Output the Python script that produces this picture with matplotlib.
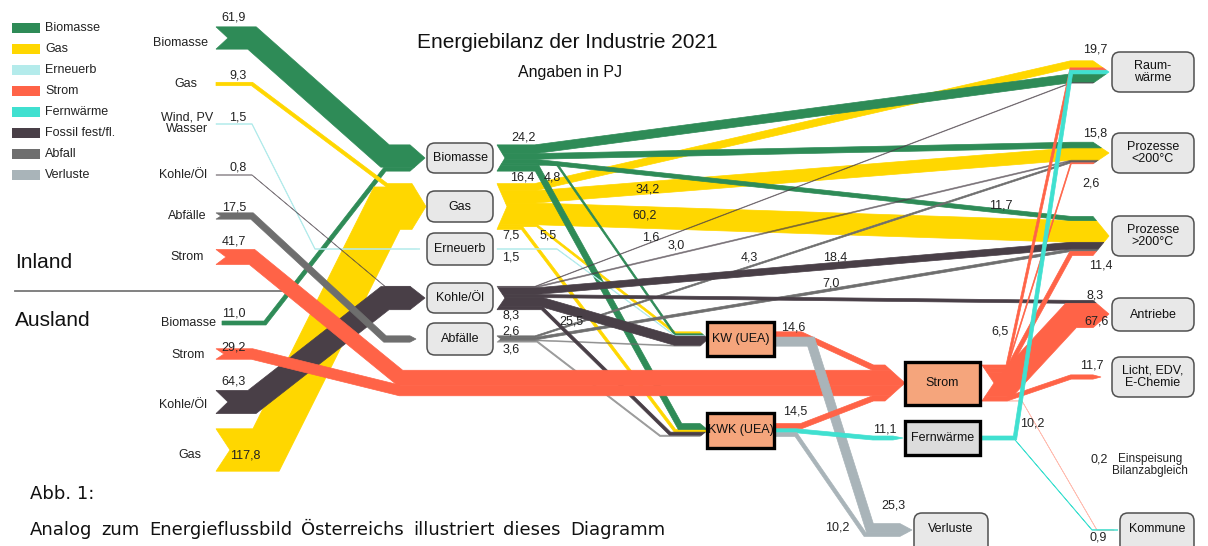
import matplotlib
matplotlib.use("Agg")
import math
import matplotlib.pyplot as plt
from matplotlib.patches import Polygon, FancyBboxPatch, Rectangle

# ---------------- DATA (PJ) ----------------
carriers = ["Biomasse", "Gas", "Erneuerb", "Strom", "Fernwärme",
            "Fossil fest/fl.", "Abfall", "Verluste"]

flow_src = ["BioIn", "BioAus", "GasIn", "GasAus", "WindIn", "KohleIn", "KohleAus",
            "AbfIn", "StromIn", "StromAus",
            "Biomasse", "Biomasse", "Biomasse", "Biomasse", "Biomasse",
            "Gas", "Gas", "Gas", "Gas", "Gas",
            "Erneuerb",
            "Kohle/Öl", "Kohle/Öl", "Kohle/Öl", "Kohle/Öl", "Kohle/Öl", "Kohle/Öl",
            "Abfälle", "Abfälle", "Abfälle", "Abfälle",
            "KW", "KW",
            "KWK", "KWK", "KWK",
            "Strom", "Strom", "Strom", "Strom", "Strom", "Strom",
            "Fernwärme", "Fernwärme"]
flow_dst = ["Biomasse", "Biomasse", "Gas", "Gas", "Erneuerb", "Kohle/Öl", "Kohle/Öl",
            "Abfälle", "Strom", "Strom",
            "Raumwärme", "P<200", "P>200", "KW", "KWK",
            "Raumwärme", "P<200", "P>200", "KW", "KWK",
            "KW",
            "Raumwärme", "P<200", "P>200", "Antriebe", "KW", "KWK",
            "P<200", "P>200", "KW", "KWK",
            "Strom", "Verluste",
            "Strom", "Fernwärme", "Verluste",
            "Raumwärme", "P<200", "P>200", "Antriebe", "Licht", "Kommune",
            "Raumwärme", "Kommune"]
flow_val = [61.9, 11.0, 9.3, 117.8, 1.5, 0.8, 64.3, 17.5, 41.7, 29.2,
            24.2, 15.8, 11.7, 4.8, 16.4,
            19.7, 34.2, 60.2, 5.5, 7.5,
            1.5,
            1.6, 3.0, 18.4, 8.3, 25.5, 8.3,
            4.3, 7.0, 2.6, 3.6,
            14.6, 25.3,
            14.5, 11.1, 10.2,
            6.5, 2.6, 11.4, 67.6, 11.7, 0.2,
            10.2, 0.9]
flow_carrier = ["Biomasse", "Biomasse", "Gas", "Gas", "Erneuerb", "Fossil fest/fl.",
                "Fossil fest/fl.", "Abfall", "Strom", "Strom",
                "Biomasse", "Biomasse", "Biomasse", "Biomasse", "Biomasse",
                "Gas", "Gas", "Gas", "Gas", "Gas",
                "Erneuerb",
                "Fossil fest/fl.", "Fossil fest/fl.", "Fossil fest/fl.", "Fossil fest/fl.",
                "Fossil fest/fl.", "Fossil fest/fl.",
                "Abfall", "Abfall", "Abfall", "Abfall",
                "Strom", "Verluste",
                "Strom", "Fernwärme", "Verluste",
                "Strom", "Strom", "Strom", "Strom", "Strom", "Strom",
                "Fernwärme", "Fernwärme"]

source_ids = ["BioIn", "GasIn", "WindIn", "KohleIn", "AbfIn", "StromIn",
              "BioAus", "StromAus", "KohleAus", "GasAus"]
source_names = ["Biomasse", "Gas", "Wind, PV\nWasser", "Kohle/Öl", "Abfälle", "Strom",
                "Biomasse", "Strom", "Kohle/Öl", "Gas"]

node_ids = ["Biomasse", "Gas", "Erneuerb", "Kohle/Öl", "Abfälle", "KW", "KWK", "Strom",
            "Fernwärme", "Verluste", "Raumwärme", "P<200", "P>200", "Antriebe",
            "Licht", "Kommune"]
node_names = ["Biomasse", "Gas", "Erneuerb", "Kohle/Öl", "Abfälle", "KW (UEA)", "KWK (UEA)",
              "Strom", "Fernwärme", "Verluste", "Raum-\nwärme", "Prozesse\n<200°C",
              "Prozesse\n>200°C", "Antriebe", "Licht, EDV,\nE-Chemie", "Kommune"]

title = "Energiebilanz der Industrie 2021"
subtitle = "Angaben in PJ"

# ---------------- STYLE / LAYOUT ----------------
colors = {"Biomasse": "#2E8B57", "Gas": "#FFD700", "Erneuerb": "#B4EBEB",
          "Strom": "#FF6347", "Fernwärme": "#40E0D0", "Fossil fest/fl.": "#493F47",
          "Abfall": "#6E6E6E", "Verluste": "#A9B4B9"}
S = 0.36  # px per PJ

lay = {
    "BioIn": dict(cy=38, out_x=216, notch=12),
    "GasIn": dict(cy=84, out_x=216, notch=0),
    "WindIn": dict(cy=124, out_x=216, notch=0),
    "KohleIn": dict(cy=175, out_x=216, notch=0),
    "AbfIn": dict(cy=216, out_x=216, notch=5),
    "StromIn": dict(cy=257, out_x=216, notch=10),
    "BioAus": dict(cy=323, out_x=222, notch=0),
    "StromAus": dict(cy=354, out_x=216, notch=8),
    "KohleAus": dict(cy=402, out_x=216, notch=12),
    "GasAus": dict(cy=450, out_x=216, notch=14),
    "Biomasse": dict(cy=158, in_x=410, tip=15, out_x=497, notch=8),
    "Gas": dict(cy=206.5, in_x=412, tip=14, out_x=497, notch=10),
    "Erneuerb": dict(cy=249, in_x=415, tip=5, out_x=497, notch=0),
    "Kohle/Öl": dict(cy=298, in_x=410, tip=15, out_x=497, notch=8),
    "Abfälle": dict(cy=339, in_x=410, tip=6, out_x=497, notch=4),
    "KW": dict(cy=339, in_x=700, tip=8, out_x=776, notch=0),
    "KWK": dict(cy=430, in_x=700, tip=8, out_x=776, notch=0),
    "Strom": dict(cy=383, in_x=885, tip=20, out_x=982, notch=12),
    "Fernwärme": dict(cy=438, in_x=893, tip=10, out_x=982, notch=0),
    "Verluste": dict(cy=530, in_x=900, tip=12),
    "Raumwärme": dict(cy=72, in_x=1093, tip=16),
    "P<200": dict(cy=153, in_x=1093, tip=16),
    "P>200": dict(cy=236, in_x=1093, tip=16),
    "Antriebe": dict(cy=314, in_x=1093, tip=16),
    "Licht": dict(cy=377, in_x=1093, tip=8),
    "Kommune": dict(cy=530, in_x=1112, tip=6),
}

in_order = {
    "Strom": ["KW", "StromIn", "StromAus", "KWK"],
    "KW": ["Gas", "Biomasse", "Erneuerb", "Kohle/Öl", "Abfälle"],
    "KWK": ["Biomasse", "Gas", "Kohle/Öl", "Abfälle"],
    "Raumwärme": ["Gas", "Strom", "Fernwärme", "Biomasse", "Kohle/Öl"],
    "P<200": ["Biomasse", "Gas", "Kohle/Öl", "Abfälle", "Strom"],
    "P>200": ["Biomasse", "Gas", "Kohle/Öl", "Abfälle", "Strom"],
    "Antriebe": ["Kohle/Öl", "Strom"],
    "Kommune": ["Fernwärme", "Strom"],
}

h_over = {
    ("StromIn", "Strom"): (36, 485), ("StromAus", "Strom"): (36, 485),
    ("BioAus", "Biomasse"): (43, 25), ("GasAus", "Gas"): (50, 25),
    ("WindIn", "Erneuerb"): (36, 100),
    ("Kohle/Öl", "KW"): (45, 25), ("Kohle/Öl", "KWK"): (45, 30),
    ("Biomasse", "KWK"): (40, 20), ("Gas", "KWK"): (25, 25),
    ("Gas", "KW"): (40, 25), ("Biomasse", "KW"): (60, 25),
    ("Abfälle", "KW"): (40, 25), ("Abfälle", "KWK"): (40, 40),
    ("Erneuerb", "KW"): (60, 25),
    ("KW", "Strom"): (25, 12), ("KW", "Verluste"): (35, 30),
    ("KWK", "Strom"): (25, 12), ("KWK", "Fernwärme"): (20, 20),
    ("KWK", "Verluste"): (20, 35),
    ("Strom", "Kommune"): (40, 15),
    ("Fernwärme", "Raumwärme"): (33, 22), ("Fernwärme", "Kommune"): (33, 20),
}

zorders = {"Biomasse": 1.4, "Gas": 1.3, "Kohle/Öl": 1.5, "Abfälle": 1.45, "Erneuerb": 1.45,
           "StromIn": 3, "StromAus": 3, "KW": 3.5, "KWK": 3.5, "Strom": 2.5, "Fernwärme": 2.6}

label_pos = {
    ("BioIn", "Biomasse"): (234, 17), ("GasIn", "Gas"): (238, 75),
    ("WindIn", "Erneuerb"): (238, 117), ("KohleIn", "Kohle/Öl"): (238, 167),
    ("AbfIn", "Abfälle"): (234, 207), ("StromIn", "Strom"): (234, 241),
    ("BioAus", "Biomasse"): (234, 314), ("StromAus", "Strom"): (234, 348),
    ("KohleAus", "Kohle/Öl"): (234, 381), ("GasAus", "Gas"): (245, 455),
    ("Biomasse", "Raumwärme"): (523, 137), ("Biomasse", "KWK"): (522, 178),
    ("Biomasse", "KW"): (552, 178), ("Gas", "P<200"): (648, 189),
    ("Gas", "P>200"): (645, 216), ("Gas", "KWK"): (511, 236), ("Gas", "KW"): (548, 236),
    ("Erneuerb", "KW"): (511, 258), ("Kohle/Öl", "Raumwärme"): (651, 238),
    ("Kohle/Öl", "P<200"): (676, 246), ("Abfälle", "P<200"): (749, 257),
    ("Kohle/Öl", "P>200"): (835, 257), ("Abfälle", "P>200"): (831, 284),
    ("Kohle/Öl", "KWK"): (511, 316), ("Abfälle", "KW"): (511, 331),
    ("Abfälle", "KWK"): (511, 349), ("Kohle/Öl", "KW"): (571, 322),
    ("Biomasse", "P>200"): (1001, 205), ("KW", "Strom"): (793, 328),
    ("KWK", "Strom"): (795, 411), ("KWK", "Fernwärme"): (885, 430),
    ("KW", "Verluste"): (893, 505), ("KWK", "Verluste"): (837, 528),
    ("Fernwärme", "Raumwärme"): (1032, 424), ("Gas", "Raumwärme"): (1095, 50),
    ("Biomasse", "P<200"): (1095, 133), ("Strom", "P<200"): (1091, 183),
    ("Strom", "P>200"): (1101, 265), ("Kohle/Öl", "Antriebe"): (1095, 295),
    ("Strom", "Antriebe"): (1097, 322), ("Strom", "Licht"): (1092, 365),
    ("Strom", "Raumwärme"): (1000, 332), ("Strom", "Kommune"): (1099, 460),
    ("Fernwärme", "Kommune"): (1098, 537),
}

source_label_pos = {"BioIn": (208, 43), "GasIn": (197, 84), "WindIn": (187, 123),
                    "KohleIn": (207, 175), "AbfIn": (206, 216), "StromIn": (204, 257),
                    "BioAus": (216, 323), "StromAus": (205, 355), "KohleAus": (207, 405),
                    "GasAus": (201, 455)}

box_geom = {
    "Biomasse": (427, 143, 66, 30), "Gas": (427, 191, 66, 31), "Erneuerb": (427, 233, 66, 32),
    "Kohle/Öl": (427, 283, 66, 30), "Abfälle": (427, 323, 66, 32),
    "KW": (707, 322, 67, 34), "KWK": (707, 413, 67, 35), "Strom": (905, 362, 75, 43),
    "Fernwärme": (905, 421, 75, 34), "Verluste": (914, 513, 74, 42),
    "Raumwärme": (1112, 52, 82, 40), "P<200": (1112, 133, 82, 40),
    "P>200": (1112, 216, 82, 40), "Antriebe": (1112, 298, 82, 33),
    "Licht": (1112, 357, 82, 40), "Kommune": (1120, 513, 74, 42),
}
square_boxes = {"KW": "#F5A57C", "KWK": "#F5A57C", "Strom": "#F5A57C", "Fernwärme": "#DCDCDC"}

FONT = ["Liberation Sans", "DejaVu Sans"]
plt.rcParams["font.family"] = FONT

fig = plt.figure(figsize=(12.08, 5.46), dpi=100)
ax = fig.add_axes([0, 0, 1, 1])
ax.set_xlim(0, 1208)
ax.set_ylim(546, 0)
ax.axis("off")

n = len(flow_val)
a0 = [0] * n; b0 = [0] * n; a1 = [0] * n; b1 = [0] * n

for node in set(flow_src):
    idx = [i for i in range(n) if flow_src[i] == node]
    tot = sum(flow_val[i] for i in idx) * S
    y = lay[node]["cy"] - tot / 2
    for i in idx:
        a0[i] = y; y += flow_val[i] * S; b0[i] = y
for node in set(flow_dst):
    idx = [i for i in range(n) if flow_dst[i] == node]
    if node in in_order:
        idx.sort(key=lambda i: in_order[node].index(flow_src[i]))
    tot = sum(flow_val[i] for i in idx) * S
    y = lay[node]["cy"] - tot / 2
    for i in idx:
        a1[i] = y; y += flow_val[i] * S; b1[i] = y


def stack_half(node, out=True):
    lst = flow_src if out else flow_dst
    return sum(flow_val[i] for i in range(n) if lst[i] == node) * S / 2


def offset_path(pts, w):
    """Top and bottom edges of a band of perpendicular width w (miter joins)."""
    clean = [pts[0]]
    for p in pts[1:]:
        if math.hypot(p[0] - clean[-1][0], p[1] - clean[-1][1]) > 1e-6:
            clean.append(p)
    pts = clean
    normals = []
    for (xa, ya), (xb, yb) in zip(pts[:-1], pts[1:]):
        dx, dy = xb - xa, yb - ya
        L = math.hypot(dx, dy)
        normals.append((dy / L, -dx / L))
    top, bot = [], []
    for k, (px, py) in enumerate(pts):
        if k == 0:
            mx, my = normals[0]
        elif k == len(pts) - 1:
            mx, my = normals[-1]
        else:
            n1, n2 = normals[k - 1], normals[k]
            dot = n1[0] * n2[0] + n1[1] * n2[1]
            f = 1.0 / (1.0 + dot)
            mx, my = (n1[0] + n2[0]) * f, (n1[1] + n2[1]) * f
        top.append((px + mx * w / 2, py + my * w / 2))
        bot.append((px - mx * w / 2, py - my * w / 2))
    return top, bot


for i in range(n):
    s, d = flow_src[i], flow_dst[i]
    Ls, Ld = lay[s], lay[d]
    x0, n0, m0 = Ls["out_x"], Ls.get("notch", 0), Ls["cy"]
    H0 = stack_half(s, True)
    x1, t1, m1 = Ld["in_x"], Ld["tip"], Ld["cy"]
    H1 = stack_half(d, False)
    default_h0 = 36 if s in source_ids else (25 if s == "Strom" else 38)
    h0, h1 = h_over.get((s, d), (default_h0, 22 if d in ("Raumwärme", "P<200", "P>200",
                                                         "Antriebe", "Licht") else 25))
    w = flow_val[i] * S
    yc0 = (a0[i] + b0[i]) / 2
    yc1 = (a1[i] + b1[i]) / 2
    center = [(x0, yc0), (x0 + h0, yc0), (x1 - h1, yc1), (x1, yc1)]
    top, bot = offset_path(center, w)

    def lx(y):
        return x0 + (n0 * max(0, 1 - abs(y - m0) / H0) if H0 > 0 else 0)

    def rx(y):
        return x1 + (t1 * max(0, 1 - abs(y - m1) / H1) if H1 > 0 else 0)

    top[0] = (lx(a0[i]), a0[i]); bot[0] = (lx(b0[i]), b0[i])
    top[-1] = (rx(a1[i]), a1[i]); bot[-1] = (rx(b1[i]), b1[i])
    pts = list(top)
    if a1[i] < m1 < b1[i]:
        pts.append((x1 + t1, m1))
    pts += bot[::-1]
    if a0[i] < m0 < b0[i]:
        pts.append((x0 + n0, m0))
    col = colors[flow_carrier[i]]
    if flow_val[i] < 0.5:
        alpha = 0.4
    elif flow_val[i] < 4 and flow_carrier[i] in ("Fossil fest/fl.", "Abfall"):
        alpha = 0.6
    else:
        alpha = 1.0
    z = zorders.get(s, 2)
    ax.add_patch(Polygon(pts, closed=True, fc=col, ec=col, lw=0.5, alpha=alpha,
                         zorder=z, joinstyle="miter"))
    if (s, d) in label_pos:
        lxp, lyp = label_pos[(s, d)]
        txt = f"{flow_val[i]:.1f}".replace(".", ",")
        ax.text(lxp, lyp, txt, fontsize=9, ha="center", va="center", color="#222222",
                zorder=7)

for nid, name in zip(node_ids, node_names):
    x, y, w, h = box_geom[nid]
    if nid in square_boxes:
        ax.add_patch(Rectangle((x, y), w, h, fc=square_boxes[nid], ec="black", lw=2.4,
                               zorder=5))
    else:
        ax.add_patch(FancyBboxPatch((x, y), w, h, boxstyle="round,pad=0,rounding_size=8",
                                    fc="#E8E8E8", ec="#505050", lw=1.1, zorder=5))
    ty = y + h / 2 if nid not in ("Verluste", "Kommune") else y + 16
    ax.text(x + w / 2, ty, name, fontsize=9, ha="center", va="center", zorder=6,
            linespacing=1.1, color="#111111")

for sid, nm in zip(source_ids, source_names):
    x, y = source_label_pos[sid]
    ha = "center" if "\n" in nm else "right"
    ax.text(x, y, nm, fontsize=9, ha=ha, va="center", linespacing=1.0, color="#222222")

ax.text(1150, 465, "Einspeisung\nBilanzabgleich", fontsize=8.5, ha="center", va="center",
        linespacing=1.1, color="#222222")

for k, c in enumerate(carriers):
    y = 28 + 21 * k
    ax.add_patch(Rectangle((12, y - 5), 28, 10, fc=colors[c], ec="none"))
    ax.text(45, y, c, fontsize=9, ha="left", va="center", color="#222222")

ax.text(15, 262, "Inland", fontsize=15, ha="left", va="center", color="#111111")
ax.text(15, 320, "Ausland", fontsize=15, ha="left", va="center", color="#111111")
ax.plot([15, 285], [291, 291], color="#777777", lw=1.3)

ax.text(567, 42, title, fontsize=15, ha="center", va="center", color="#111111")
ax.text(570, 72, subtitle, fontsize=11.5, ha="center", va="center", color="#111111")

ax.text(30, 494, "Abb. 1:", fontsize=13, family="DejaVu Sans", ha="left", va="center",
        color="#111111")
words = "Analog zum Energieflussbild Österreichs illustriert dieses Diagramm".split()
fig.canvas.draw()
r = fig.canvas.get_renderer()
objs = [ax.text(0, 530, w_, fontsize=13, family="DejaVu Sans", ha="left", va="center",
                color="#111111") for w_ in words]
widths = [o.get_window_extent(r).width for o in objs]
gap = (665 - 30 - sum(widths)) / (len(words) - 1)
x = 30
for o, w_ in zip(objs, widths):
    o.set_x(x)
    x += w_ + gap

fig.savefig("out.png", dpi=100)
